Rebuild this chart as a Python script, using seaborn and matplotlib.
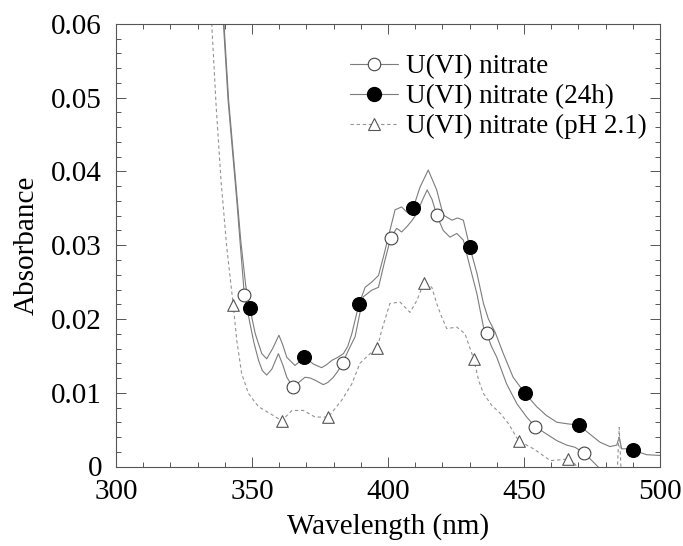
import matplotlib
matplotlib.use("Agg")
import matplotlib.pyplot as plt
from matplotlib.lines import Line2D
from matplotlib.ticker import MultipleLocator, FixedLocator, FixedFormatter
import seaborn as sns

# --- spectra (wavelength in nm, absorbance) ---
wl_nitrate = [337.7, 339.5, 341.2, 344.4, 345.6, 347.2, 349.2, 350.7, 352.4, 353.8,
              355.4, 357.3, 359.7, 361.3, 362.8, 365.0, 367.2, 369.5, 371.4, 373.2,
              376.2, 377.9, 379.9, 381.5, 383.3, 385.5, 387.9, 389.5, 390.9, 394.0,
              396.5, 398.9, 401.0, 403.2, 405.0, 406.9, 408.7, 410.6, 412.5, 414.4,
              416.2, 417.9, 420.3, 422.8, 425.3, 427.7, 429.5, 432.7, 435.1, 436.3,
              437.9, 440.0, 443.6, 447.4, 451.0, 454.1, 458.3, 462.1, 465.7, 468.8,
              472.2, 475.5, 477.9, 481.7, 500.0]
abs_nitrate = [0.0720, 0.0600, 0.0497, 0.0361, 0.0305, 0.0232, 0.0195, 0.0168, 0.0144, 0.0130,
               0.0124, 0.0132, 0.0153, 0.0138, 0.0121, 0.0108, 0.0114, 0.0121, 0.0120, 0.0117,
               0.0111, 0.0114, 0.0121, 0.0129, 0.0140, 0.0158, 0.0176, 0.0205, 0.0230, 0.0239,
               0.0243, 0.0280, 0.0310, 0.0323, 0.0318, 0.0325, 0.0333, 0.0343, 0.0360, 0.0375,
               0.0362, 0.0341, 0.0320, 0.0311, 0.0316, 0.0307, 0.0280, 0.0234, 0.0189, 0.0181,
               0.0164, 0.0148, 0.0112, 0.0085, 0.0067, 0.0054, 0.0044, 0.0035, 0.0029, 0.0026,
               0.0018, 0.0006, -0.0003, -0.0015, -0.0020]

wl_24h = [338.0, 339.7, 341.4, 344.6, 345.9, 347.7, 349.2, 351.2, 353.6, 355.4,
          357.6, 359.9, 361.3, 362.8, 365.8, 367.4, 369.1, 370.9, 372.5, 375.6,
          377.4, 379.4, 381.5, 383.6, 385.2, 386.7, 389.3, 391.6, 394.0, 396.5,
          398.3, 400.7, 402.6, 405.0, 406.9, 409.3, 411.8, 414.8, 417.9, 420.3,
          423.5, 425.6, 427.7, 430.1, 432.7, 435.1, 436.9, 439.4, 442.4, 446.0,
          450.2, 454.7, 458.3, 462.1, 465.7, 470.2, 474.2, 477.9, 481.6, 484.1,
          485.0, 485.9, 487.7, 490.2, 495.1, 500.0]
abs_24h = [0.0700, 0.0600, 0.0497, 0.0361, 0.0305, 0.0245, 0.0215, 0.0180, 0.0153, 0.0146,
           0.0160, 0.0178, 0.0165, 0.0148, 0.0137, 0.0142, 0.0149, 0.0144, 0.0139, 0.0134,
           0.0138, 0.0144, 0.0148, 0.0153, 0.0163, 0.0180, 0.0220, 0.0243, 0.0250, 0.0259,
           0.0284, 0.0320, 0.0348, 0.0352, 0.0345, 0.0351, 0.0379, 0.0402, 0.0375, 0.0341,
           0.0334, 0.0337, 0.0334, 0.0297, 0.0262, 0.0221, 0.0200, 0.0182, 0.0153, 0.0121,
           0.0100, 0.0081, 0.0069, 0.0060, 0.0058, 0.0056, 0.0044, 0.0033, 0.0027, 0.0029,
           0.0040, 0.0024, 0.0024, 0.0022, 0.0016, 0.0015]

wl_ph = [333.6, 335.2, 336.8, 338.6, 340.7, 343.1, 344.4, 346.2, 348.7, 352.4,
         356.6, 360.9, 364.7, 368.9, 373.2, 378.0, 383.0, 386.7, 389.7, 393.1,
         396.1, 397.7, 400.7, 404.4, 408.1, 410.6, 413.2, 416.1, 417.9, 419.7,
         421.6, 425.3, 428.3, 431.5, 433.3, 435.1, 438.1, 441.3, 444.3, 448.0,
         453.5, 459.7, 466.1, 468.1, 471.6, 484.2, 485.0, 485.8, 500.0]
abs_ph = [0.0700, 0.0600, 0.0490, 0.0388, 0.0298, 0.0219, 0.0171, 0.0126, 0.0099, 0.0081,
          0.0072, 0.0062, 0.0076, 0.0076, 0.0067, 0.0067, 0.0090, 0.0112, 0.0140, 0.0152,
          0.0161, 0.0185, 0.0221, 0.0223, 0.0209, 0.0225, 0.0249, 0.0243, 0.0221, 0.0203,
          0.0187, 0.0189, 0.0180, 0.0146, 0.0117, 0.0099, 0.0083, 0.0072, 0.0058, 0.0035,
          0.0024, 0.0008, 0.0010, 0.0006, -0.0010, -0.0015, 0.0053, -0.0015, -0.0015]

# symbols placed along each spectrum
mk_wl_nitrate = [347.2, 365.0, 383.3, 401.0, 417.9, 436.3, 454.1, 472.2]
mk_abs_nitrate = [0.0232, 0.0108, 0.0140, 0.0310, 0.0341, 0.0181, 0.0054, 0.0018]
mk_wl_24h = [349.2, 369.1, 389.3, 409.3, 430.1, 450.2, 470.2, 490.2]
mk_abs_24h = [0.0215, 0.0149, 0.0220, 0.0351, 0.0297, 0.0100, 0.0056, 0.0022]
mk_wl_ph = [343.1, 360.9, 378.0, 396.1, 413.2, 431.5, 448.0, 466.1]
mk_abs_ph = [0.0219, 0.0062, 0.0067, 0.0161, 0.0249, 0.0146, 0.0035, 0.0010]

series_labels = ["U(VI) nitrate", "U(VI) nitrate (24h)", "U(VI) nitrate (pH 2.1)"]
x_ticks = [300, 350, 400, 450, 500]
y_ticks = [0.0, 0.01, 0.02, 0.03, 0.04, 0.05, 0.06]
y_tick_labels = ["0", "0.01", "0.02", "0.03", "0.04", "0.05", "0.06"]

sns.set_style("ticks")
plt.rcParams["font.family"] = ["Liberation Serif", "DejaVu Serif"]
plt.rcParams["text.color"] = "black"
plt.rcParams["axes.labelcolor"] = "black"
FS = 21
LEG_FS = 19.5

fig = plt.figure(figsize=(6.83, 5.46), dpi=100)
ax = fig.add_axes([116 / 683, 1 - 466.5 / 546, 544 / 683, 442.5 / 546])

line_col = "#7c7c7c"
dash_col = "#939393"
dash = (0, (3.0, 2.5))

sns.lineplot(x=wl_nitrate, y=abs_nitrate, ax=ax, sort=False, estimator=None,
             color=line_col, lw=0.8)
sns.lineplot(x=wl_24h, y=abs_24h, ax=ax, sort=False, estimator=None,
             color=line_col, lw=0.8)
sns.lineplot(x=wl_ph, y=abs_ph, ax=ax, sort=False, estimator=None,
             color=dash_col, lw=0.8, linestyle=dash)

sns.scatterplot(x=mk_wl_nitrate, y=mk_abs_nitrate, ax=ax, marker="o", s=85,
                facecolor="white", edgecolor="#444444", linewidth=0.8, zorder=5)
sns.scatterplot(x=mk_wl_24h, y=mk_abs_24h, ax=ax, marker="o", s=100,
                color="black", edgecolor="black", linewidth=0.8, zorder=5)
sns.scatterplot(x=mk_wl_ph, y=mk_abs_ph, ax=ax, marker="^", s=70,
                facecolor="white", edgecolor="#555555", linewidth=0.8, zorder=5)

ax.set_xlim(300, 500)
ax.set_ylim(0, 0.06)
ax.xaxis.set_major_locator(FixedLocator(x_ticks))
ax.xaxis.set_minor_locator(MultipleLocator(10))
ax.yaxis.set_major_locator(FixedLocator(y_ticks))
ax.yaxis.set_major_formatter(FixedFormatter(y_tick_labels))
ax.yaxis.set_minor_locator(MultipleLocator(0.002))
ax.tick_params(which="both", direction="in", top=True, right=True,
               color="#555555", width=0.7, labelcolor="black")
ax.tick_params(which="major", length=7, labelsize=FS)
ax.tick_params(axis="x", which="major", pad=9)
ax.tick_params(axis="y", which="major", pad=10)
ax.tick_params(which="minor", length=3.5)
for sp in ax.spines.values():
    sp.set_linewidth(0.8)
    sp.set_color("#555555")

ax.set_xlabel("Wavelength (nm)", fontsize=FS, labelpad=6, color="black")
ax.set_ylabel("Absorbance", fontsize=FS, labelpad=8, color="black")

handles = [
    Line2D([], [], color=line_col, lw=0.8, marker="o", ms=9,
           mfc="white", mec="#444444", mew=0.8),
    Line2D([], [], color=line_col, lw=0.8, marker="o", ms=10,
           mfc="black", mec="black"),
    Line2D([], [], color=dash_col, lw=0.8, linestyle=dash, marker="^", ms=8,
           mfc="white", mec="#555555", mew=0.8),
]
leg = ax.legend(handles, series_labels, loc="upper left", bbox_to_anchor=(0.430, 0.931),
                frameon=False, fontsize=LEG_FS, handlelength=1.77, handletextpad=0.3,
                labelspacing=0.18, borderpad=0, borderaxespad=0)
for t in leg.get_texts():
    t.set_color("black")

fig.savefig("out.png", dpi=100)
